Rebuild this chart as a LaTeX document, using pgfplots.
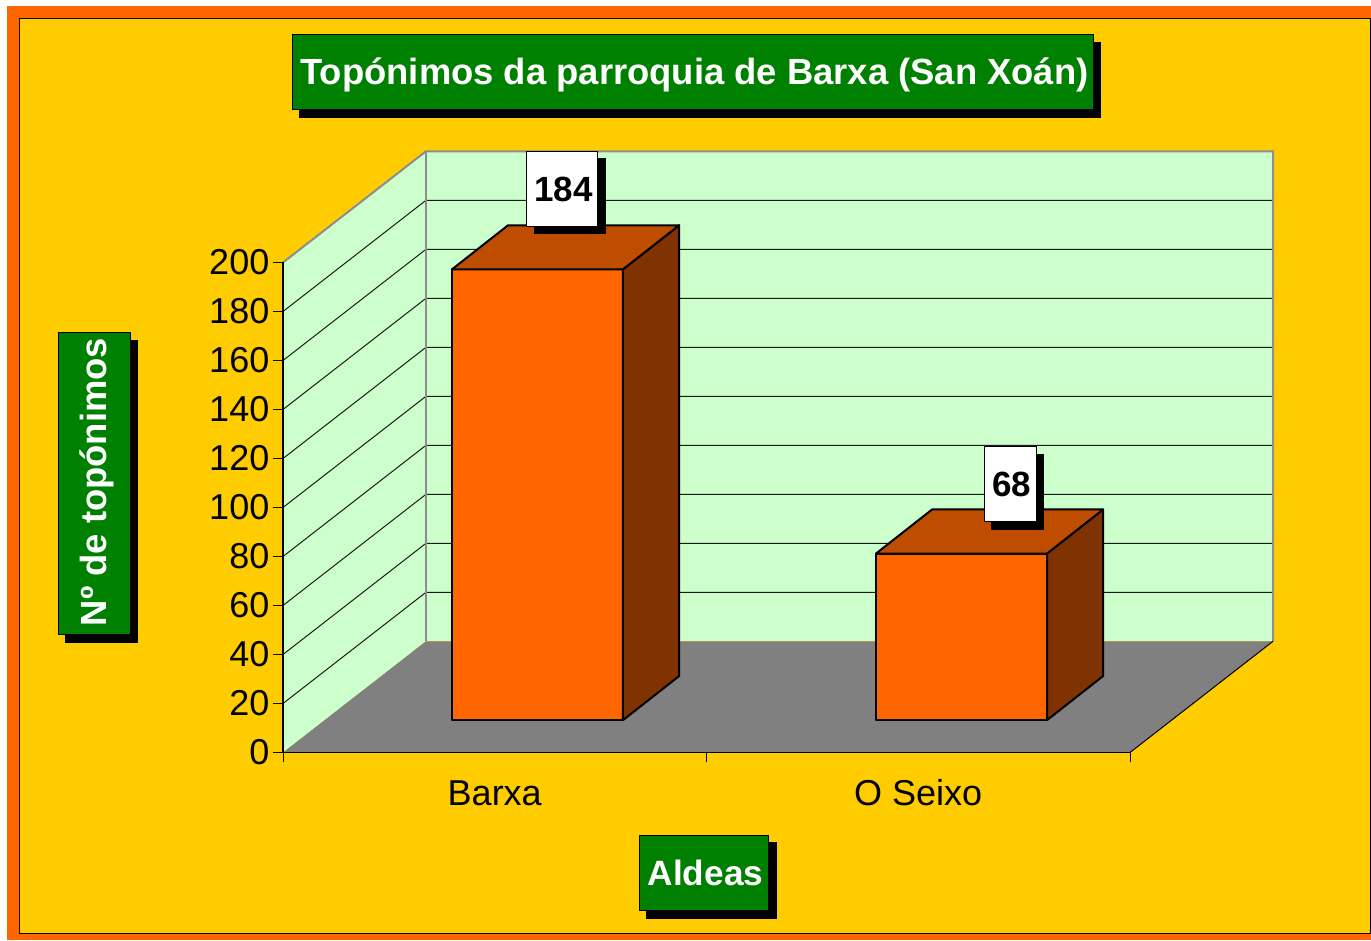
\documentclass[border=0pt]{standalone}
\usepackage{fontspec}
\setmainfont{Liberation Sans}
\usepackage{pgfplots}
\pgfplotsset{compat=1.18}
\usetikzlibrary{shadows}

\definecolor{panel}{HTML}{FFCC00}
\definecolor{frameorange}{HTML}{FF6600}
\definecolor{boxgreen}{HTML}{008000}
\definecolor{wall}{HTML}{CCFFCC}
\definecolor{floorgrey}{HTML}{808080}
\definecolor{bartop}{HTML}{BF4D00}
\definecolor{barside}{HTML}{803300}

\tikzset{
  shbox/.style={draw=black, line width=1pt, inner xsep=0pt, inner ysep=0pt, minimum height=75pt,
    text height=25pt, text depth=0pt,
    copy shadow={shadow xshift=7.5pt, shadow yshift=-7.5pt, fill=black, draw=black, opacity=1}},
  titlebox/.style={shbox, fill=boxgreen, text=white, font=\fontsize{36.4}{40}\selectfont\bfseries},
  valuebox/.style={shbox, fill=white, text=black, font=\fontsize{35}{40}\selectfont\bfseries},
}

% #1 left edge of the front face, #2 value
\newcommand{\threedbar}[2]{%
  \pgfmathsetmacro\xa{#1}%
  \pgfmathsetmacro\xb{#1+0.4038}%
  \pgfmathsetmacro\xc{#1+0.4038+0.1325}%
  \pgfmathsetmacro\xd{#1+0.1325}%
  \pgfmathsetmacro\yb{13.2}%
  \pgfmathsetmacro\yt{13.2+#2}%
  \pgfmathsetmacro\ybb{13.2+18}%
  \pgfmathsetmacro\ytb{13.2+18+#2}%
  \addplot[draw=black, line width=2pt, line join=round, fill=frameorange]
    coordinates {(\xa,\yb) (\xb,\yb) (\xb,\yt) (\xa,\yt)} -- cycle;
  \addplot[draw=black, line width=2pt, line join=round, fill=barside]
    coordinates {(\xb,\yb) (\xc,\ybb) (\xc,\ytb) (\xb,\yt)} -- cycle;
  \addplot[draw=black, line width=2pt, line join=round, fill=bartop]
    coordinates {(\xa,\yt) (\xb,\yt) (\xc,\ytb) (\xd,\ytb)} -- cycle;
}

\begin{document}
\begin{tikzpicture}
  % page, frame and panel, in pixels from the lower left corner
  \begin{scope}[x=1pt,y=1pt]
    \fill[white] (0,0) rectangle (1371,940);
    \fill[frameorange] (7,0) rectangle (1371,934);
    \filldraw[fill=panel, draw=black, line width=1pt] (19,7) rectangle (1370.5,921.5);
  \end{scope}

  \begin{axis}[
    at={(283pt,187.5pt)}, anchor=south west,
    scale only axis, width=847pt, height=490pt,
    xmin=0, xmax=2, ymin=0, ymax=200,
    clip=false, axis on top,
    axis x line*=bottom, axis y line*=left,
    axis line style={black, line width=1.5pt},
    tick align=outside, major tick length=10pt,
    tick style={black, line width=1pt},
    xtick={0,1,2}, x tick label as interval,
    xticklabels={Barxa,O Seixo},
    ytick={0,20,...,200},
    tick label style={font=\fontsize{36}{40}\selectfont},
    /pgf/number format/assume math mode=true,
    xticklabel style={yshift=-13pt, text height=26pt, text depth=0pt},
    yticklabel style={inner xsep=3.5pt},
  ]
    % walls and floor
    \addplot[draw=none, fill=wall] coordinates {(0,0) (0,200) (0.3377,245.4) (0.3377,45.4)} -- cycle;
    \addplot[draw=none, fill=wall] coordinates {(0.3377,45.4) (0.3377,245.4) (2.3377,245.4) (2.3377,45.4)} -- cycle;
    \addplot[draw=none, fill=floorgrey] coordinates {(0,0) (2,0) (2.3377,45.4) (0.3377,45.4)} -- cycle;

    % grid lines on both walls
    \pgfplotsinvokeforeach{20,40,...,180}{
      \pgfmathsetmacro\yg{#1+45.4}
      \addplot[draw=black!90, line width=1pt] coordinates {(0,#1) (0.3377,\yg) (2.3377,\yg)};
    }

    % wall edges
    \addplot[draw=floorgrey!90, line width=2pt] coordinates {(0,200) (0.3377,245.4) (2.3377,245.4) (2.3377,45.4)};
    \addplot[draw=floorgrey!90, line width=2pt] coordinates {(0.3377,245.4) (0.3377,45.4)};
    \addplot[draw=black, line width=1pt] coordinates {(2,0) (2.3377,45.4)};

    % bars
    \threedbar{0.399}{184}
    \threedbar{1.4002}{68}

    % value labels
    \node[valuebox, minimum width=71pt] at (axis cs:0.6588,230) {\hspace{3pt}184};
    \node[valuebox, minimum width=52pt] at (axis cs:1.7178,109.4) {\hspace{3pt}68};
  \end{axis}

  % titles
  \begin{scope}[x=1pt,y=1pt]
    \node[titlebox, minimum width=801pt] at (692.5,867.5) {\hspace{4pt}Topónimos da parroquia de Barxa (San Xoán)};
    \node[titlebox, rotate=90, minimum height=72pt, minimum width=302pt, text height=24pt] at (94,456) {\hspace{4pt}Nº de topónimos};
    \node[titlebox, minimum width=129.5pt, font=\fontsize{35.2}{40}\selectfont\bfseries] at (704,67) {\hspace{3pt}Aldeas};
  \end{scope}
\end{tikzpicture}
\end{document}
